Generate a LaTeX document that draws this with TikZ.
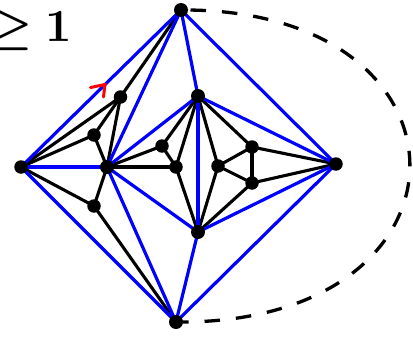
\documentclass[tikz,border=0pt]{standalone}
\usepackage{amsmath}
\usetikzlibrary{backgrounds}
\begin{document}
\begin{tikzpicture}[x=1pt,y=-1pt,
  dot/.style={circle,fill=black,inner sep=0pt,minimum size=13.5pt},
  bl/.style={draw=blue,line width=3.2pt},
  bk/.style={draw=black,line width=3.1pt},
  dsh/.style={draw=black,line width=3.3pt,dash pattern=on 15.5pt off 16pt,dash phase=22pt}]
\useasboundingbox (0,0) rectangle (413,343);
\node[anchor=base west,inner sep=0pt] (lbl) at (-9,41) {\scalebox{4.6}{$\boldsymbol{\geq}\mathbf{1}$}};
% outer
\node[dot,minimum size=14pt] (T) at (181,10) {};
\node[dot] (L) at (21,167) {};
\node[dot,minimum size=14pt] (B) at (176,322) {};
\node[dot] (R) at (336,164) {};
% inner left
\node[dot] (a) at (120.5,97) {};
\node[dot] (b) at (94,135) {};
\node[dot,minimum size=14pt] (c) at (107,167) {};
\node[dot] (d) at (94,206) {};
% inner right
\node[dot,minimum size=14pt] (e) at (198,96) {};
\node[dot] (f) at (162,146) {};
\node[dot] (g) at (176,167) {};
\node[dot] (h) at (218,166) {};
\node[dot] (i) at (252,147) {};
\node[dot] (j) at (252,183) {};
\node[dot,minimum size=14pt] (k) at (198,232) {};
\begin{scope}[on background layer]
% black edges
\draw[bk] (T.center) -- (a.center);
\draw[bk] (a.center) -- (L.center);
\draw[bk] (a.center) -- (c.center);
\draw[bk] (a.center) -- (b.center);
\draw[bk] (b.center) -- (L.center);
\draw[bk] (b.center) -- (c.center);
\draw[bk] (d.center) -- (L.center);
\draw[bk] (d.center) -- (c.center);
\draw[bk] (d.center) -- (B.center);
\draw[bk] (c.center) -- (f.center);
\draw[bk] (c.center) -- (g.center);
\draw[bk] (f.center) -- (g.center);
\draw[bk] (e.center) -- (f.center);
\draw[bk] (e.center) -- (g.center);
\draw[bk] (g.center) -- (k.center);
\draw[bk] (e.center) -- (h.center);
\draw[bk] (e.center) -- (i.center);
\draw[bk] (h.center) -- (i.center);
\draw[bk] (h.center) -- (j.center);
\draw[bk] (i.center) -- (j.center);
\draw[bk] (h.center) -- (k.center);
\draw[bk] (j.center) -- (k.center);
\draw[bk] (i.center) -- (R.center);
\draw[bk] (j.center) -- (R.center);
% blue edges
\draw[bl] (T.center) -- (L.center);
\draw[bl] (T.center) -- (R.center);
\draw[bl] (T.center) -- (c.center);
\draw[bl] (T.center) -- (e.center);
\draw[bl] (L.center) -- (c.center);
\draw[bl] (L.center) -- (B.center);
\draw[bl] (c.center) -- (B.center);
\draw[bl] (c.center) -- (e.center);
\draw[bl] (c.center) -- (k.center);
\draw[bl] (e.center) -- (k.center);
\draw[bl] (k.center) -- (B.center);
\draw[bl] (k.center) -- (R.center);
\draw[bl] (e.center) -- (R.center);
\draw[bl] (B.center) -- (R.center);
% dashed outer edge
\draw[dsh] (T.center) .. controls (487,8) and (487,325) .. (B.center);
\end{scope}
% red arrowhead on T--L
\draw[red,line width=3pt,line cap=round,line join=miter] (90.5,87.5) -- (105,84.5) -- (103.5,97);
\end{tikzpicture}
\end{document}
